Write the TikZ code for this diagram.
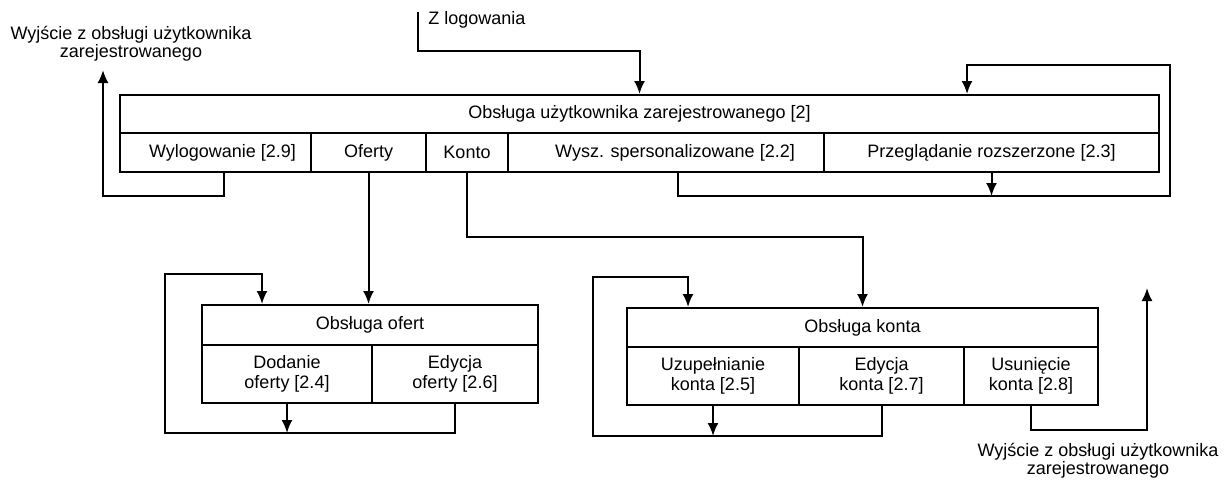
\documentclass[tikz,border=0pt]{standalone}
\usepackage{fontspec}
\setmainfont{Liberation Sans}
\usetikzlibrary{arrows.meta}

\begin{document}
\begin{tikzpicture}[x=1pt,y=-1pt,line width=2pt,
		>={Latex[length=13pt,width=11pt]},
		pole/.style={draw,inner sep=0pt,align=center,font=\fontsize{18}{20}\selectfont},
		wym/.style 2 args={minimum width=#1pt,minimum height=#2pt},
		opis/.style={align=center,font=\fontsize{18}{18}\selectfont}]
		\useasboundingbox (0,0) rectangle (1230,479);
		\path
		(418,12) coordinate (zlog)
		(103,70) coordinate (wyj1k)
		(1147,288) coordinate (wyj2k)
		;
		% glowny modul
		\node[pole,wym={1039}{38}] (glowny) at (639.5,114) {Obsługa użytkownika zarejestrowanego [2]};
		\node[pole,wym={191}{39}] (wyl) at (215.5,152.5) {\hspace*{14pt}Wylogowanie [2.9]};
		\node[pole,wym={115}{39}] (ofe) at (368.5,152.5) {Oferty};
		\node[pole,wym={82}{39}] (kon) at (467,152.5) {Konto};
		\node[pole,wym={316}{39}] (wys) at (666,152.5) {\hspace*{18pt}Wysz. spersonalizowane [2.2]};
		\node[pole,wym={335}{39}] (prz) at (991.5,152.5) {Przeglądanie rozszerzone [2.3]};
		% oferty
		\node[pole,wym={336}{40}] (ofT) at (370,325) {Obsługa ofert};
		\node[pole,wym={170}{58}] (dod) at (287,374) {Dodanie\\oferty [2.4]};
		\node[pole,wym={166}{58}] (edo) at (455,374) {Edycja\\oferty [2.6]};
		% konto
		\node[pole,wym={471}{39}] (koT) at (862.5,327.5) {Obsługa konta};
		\node[pole,wym={172}{58}] (uzu) at (713,376) {Uzupełnianie\\konta [2.5]};
		\node[pole,wym={165}{58}] (edk) at (881.5,376) {Edycja\\konta [2.7]};
		\node[pole,wym={134}{58}] (usu) at (1031,376) {Usunięcie\\konta [2.8]};
		% opisy
		\node[opis,anchor=west] (zlogtxt) at (424,20) {Z logowania};
		\node[opis] (wyj1) at (131,44) {Wyjście z obsługi użytkownika\\zarejestrowanego};
		\node[opis] (wyj2) at (1098,461) {Wyjście z obsługi użytkownika\\zarejestrowanego};
		% polaczenia
		\draw[->] (zlog) |- ([yshift=43pt]glowny.north) -- (glowny.north);
		\draw[->] ([xshift=8.5pt]wyl.south) |- (103,196) -- (wyj1k);
		\draw[->] (ofe.south) -- (ofe.south |- ofT.north);
		\draw[->] (kon.south) |- ([yshift=70pt]koT.north) -- (koT.north);
		\draw[->] ([xshift=12pt]wys.south) |- (1170,196) |- (967,65) -- (glowny.north -| 967,0);
		\draw[->] (prz.south) -- ++(0,23);
		\draw[->] (dod.south) -- ++(0,29);
		\draw[->] (edo.south) |- (165,433) |- (262,274) -- (ofT.north -| 262,0);
		\draw[->] (uzu.south) -- ++(0,30);
		\draw[->] (edk.south) |- (593,436) |- (688,277) -- (koT.north -| 688,0);
		\draw[->] (usu.south) |- (1147,430) -- (wyj2k);
	\end{tikzpicture}
\end{document}
